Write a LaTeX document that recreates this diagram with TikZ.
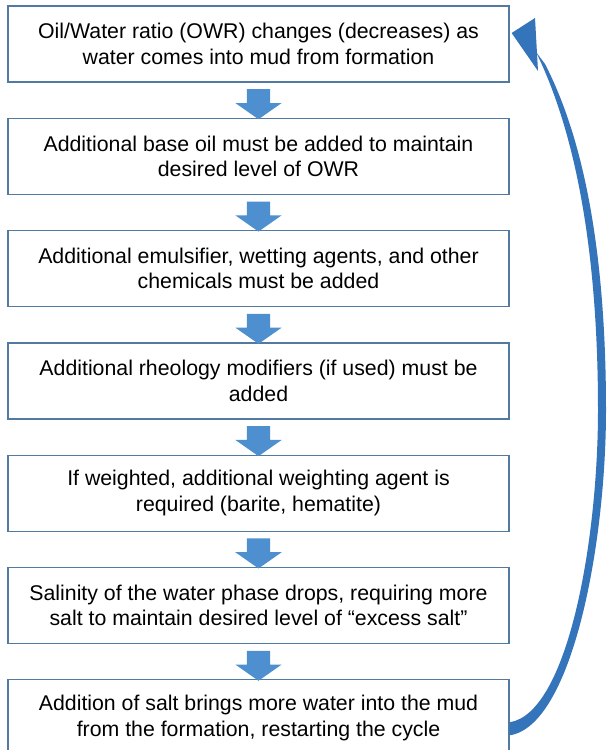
\documentclass[tikz,border=0pt]{standalone}
\usepackage{fontspec}
\setmainfont{Liberation Sans}
\usepackage{tikz}
\usetikzlibrary{calc,positioning,shapes.arrows}

\definecolor{boxline}{RGB}{82,122,160}
\definecolor{stepblue}{RGB}{78,143,207}
\definecolor{loopblue}{RGB}{52,116,186}

\begin{document}
\begin{tikzpicture}[x=1pt,y=1pt,
  box/.style={
    draw=boxline,
    fill=white,
    line width=1.3pt,
    rectangle,
    minimum width=501pt,
    minimum height=76pt,
    inner sep=0pt,
    align=center,
    font=\fontsize{21.3}{25.5}\selectfont},
  down/.style={single arrow, fill=stepblue, draw=none,
    inner xsep=11.5pt, inner ysep=0pt,
    shape border rotate=270, minimum height=30pt, minimum width=46pt,
    single arrow head extend=11.5pt, single arrow tip angle=110},
  ]

  \useasboundingbox[fill=white] (0,0) rectangle (606,-750);

  \node (OWR) [box] at (258.5,-44) {Oil/Water ratio (OWR) changes (decreases) as\\water comes into mud from formation};
  \node (BaseOil) [box, below=35pt of OWR] {Additional base oil must be added to maintain\\desired level of OWR};
  \node (Emulsifier) [box, below=35pt of BaseOil] {Additional emulsifier, wetting agents, and other\\chemicals must be added};
  \node (Rheology) [box, below=35pt of Emulsifier] {Additional rheology modifiers (if used) must be\\added};
  \node (Weighting) [box, below=35pt of Rheology] {If weighted, additional weighting agent is\\required (barite, hematite)};
  \node (Salinity) [box, below=35pt of Weighting] {Salinity of the water phase drops, requiring more\\salt to maintain desired level of “excess salt”};
  \node (SaltAdd) [box, below=35pt of Salinity] {Addition of salt brings more water into the mud\\from the formation, restarting the cycle};

  \node [down] at ($(OWR.south)!.5!(BaseOil.north)$) {};
  \node [down] at ($(BaseOil.south)!.5!(Emulsifier.north)$) {};
  \node [down] at ($(Emulsifier.south)!.5!(Rheology.north)$) {};
  \node [down] at ($(Rheology.south)!.5!(Weighting.north)$) {};
  \node [down] at ($(Weighting.south)!.5!(Salinity.north)$) {};
  \node [down] at ($(Salinity.south)!.5!(SaltAdd.north)$) {};

  % curved return arrow, wider at the tail
  \coordinate (tailTop) at ($(SaltAdd.east)+(0,-4.5)$);
  \coordinate (tailBot) at ($(SaltAdd.east)+(0,-17.5)$);
  \coordinate (headTip) at ($(OWR.east)+(2,11)$);

  \fill[loopblue] (tailBot) .. controls (572,-726) and (606,-545) .. (606,-410)
    .. controls (606,-285) and (592,-155) .. (545,-64) -- (536,-52)
    .. controls (584,-150) and (598,-285) .. (598,-410)
    .. controls (598,-540) and (568,-713) .. (tailTop) -- cycle;
  \fill[loopblue] (535,-18) -- (headTip) -- (538,-71) -- cycle;

\end{tikzpicture}
\end{document}
